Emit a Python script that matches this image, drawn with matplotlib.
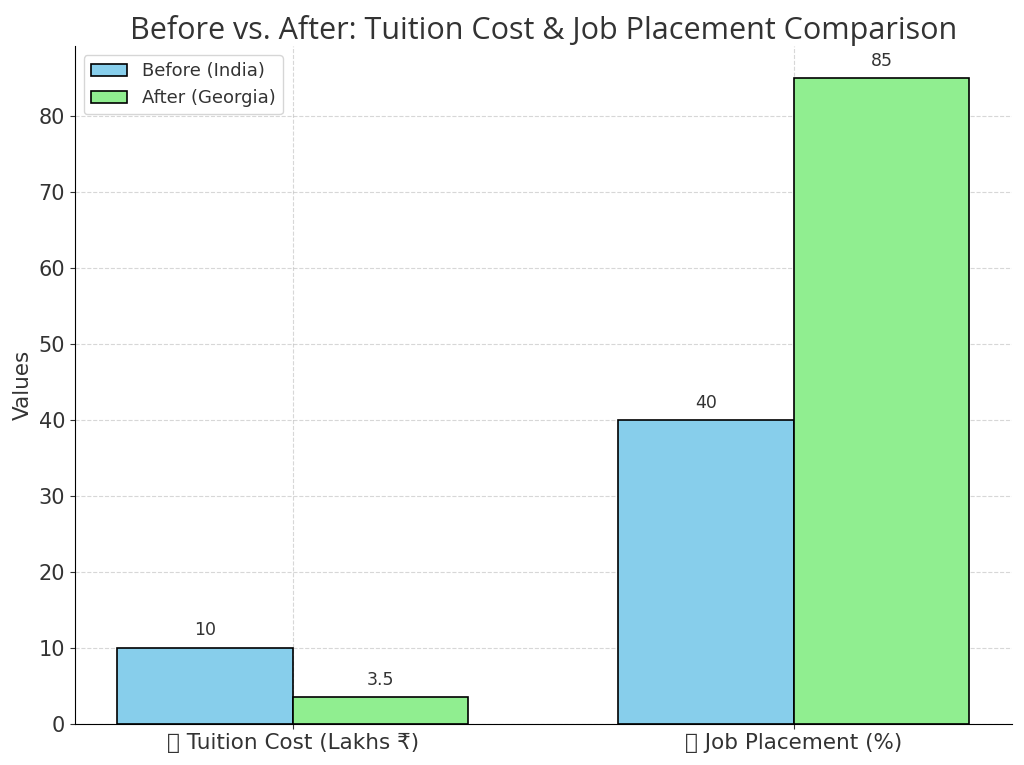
import matplotlib
matplotlib.use('Agg')
import matplotlib.pyplot as plt
import numpy as np

categories = ['\U0001F4B0 Tuition Cost (Lakhs \u20b9)', '\U0001F4C8 Job Placement (%)']
before = [10, 40]
after = [3.5, 85]

plt.rcParams['text.color'] = '#333333'
plt.rcParams['axes.labelcolor'] = '#333333'
plt.rcParams['xtick.color'] = '#333333'
plt.rcParams['ytick.color'] = '#333333'

x = np.arange(len(categories))
w = 0.35

fig, ax = plt.subplots(figsize=(10.24, 7.65), dpi=100)
b1 = ax.bar(x - w/2, before, w, color='skyblue', edgecolor='black', linewidth=1.2, label='Before (India)')
b2 = ax.bar(x + w/2, after, w, color='lightgreen', edgecolor='black', linewidth=1.2, label='After (Georgia)')

for bars in (b1, b2):
    for b in bars:
        h = b.get_height()
        ax.annotate(f'{h:g}', (b.get_x() + b.get_width()/2, h), xytext=(0, 6),
                    textcoords='offset points', ha='center', va='bottom', fontsize=12.5)

ax.set_xticks(x)
ax.set_xticklabels(categories, fontsize=15.5)
ax.tick_params(axis='y', labelsize=15)
ax.set_ylabel('Values', fontsize=15.5)
ax.set_title('Before vs. After: Tuition Cost & Job Placement Comparison', fontsize=22, family='Open Sans', pad=5)
ax.grid(True, linestyle='--', alpha=0.5)
ax.set_axisbelow(True)
ax.spines['top'].set_visible(False)
ax.spines['right'].set_visible(False)
ax.legend(loc='upper left', fontsize=13)

plt.subplots_adjust(left=0.073, right=0.988, top=0.94, bottom=0.054)
plt.savefig('out.png')
